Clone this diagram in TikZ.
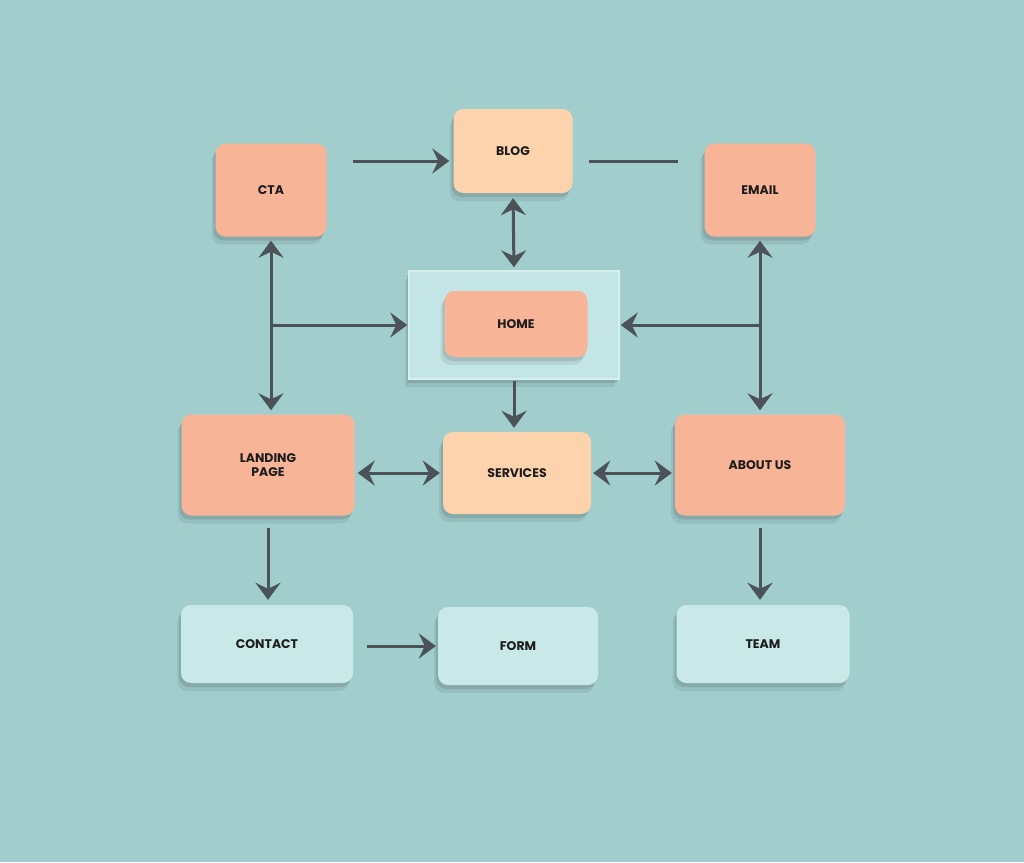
\documentclass[tikz,border=0pt]{standalone}
\usepackage{fontspec}
\setmainfont{Poppins}
\usepackage{tikz}
\usetikzlibrary{arrows.meta}
\usetikzlibrary{shadows}

\definecolor{bg}{HTML}{A2CDCD}
\definecolor{salmon}{HTML}{F8B497}
\definecolor{peach}{HTML}{FDD3AD}
\definecolor{mint}{HTML}{C9E8E8}
\definecolor{homecyan}{HTML}{C4E5E5}
\definecolor{homeedge}{HTML}{D6EFEF}
\definecolor{arrowgray}{HTML}{4B5258}
\definecolor{txt}{HTML}{1C1C1C}

\begin{document}
\begin{tikzpicture}[x=1pt,y=-1pt]
		\fill[bg] (0,0) rectangle (1024,862);

		\begin{scope}[every node/.style={rectangle,rounded corners=10pt,text=txt,align=center,
		              font=\fontsize{12.5}{14.5}\selectfont\bfseries,
		              general shadow={shadow xshift=-4pt,shadow yshift=-8pt,opacity=.07,fill=black},
		              drop shadow={shadow xshift=-2pt,shadow yshift=-4pt,opacity=.1,fill=black}}]
			\node[fill=homecyan,draw=homeedge,line width=1.5pt,rounded corners=0pt,
			      minimum width=210pt,minimum height=108pt] (homebox) at (514,325) {};
			\node[fill=salmon,minimum width=111pt,minimum height=93pt] (cta) at (271,190) {CTA};
			\node[fill=peach,minimum width=119pt,minimum height=84pt] (blog) at (513,151) {BLOG};
			\node[fill=salmon,minimum width=111pt,minimum height=93pt] (email) at (760,190) {EMAIL};
			\node[fill=salmon,minimum width=143pt,minimum height=66pt] (home) at (516,324) {HOME};
			\node[fill=salmon,minimum width=173pt,minimum height=101pt] (landing) at (268,465) {LANDING\\PAGE};
			\node[fill=peach,minimum width=148pt,minimum height=82pt] (services) at (517,473) {SERVICES};
			\node[fill=salmon,minimum width=170pt,minimum height=101pt] (about) at (760,465) {ABOUT US};
			\node[fill=mint,minimum width=172pt,minimum height=78pt] (contact) at (267,644) {CONTACT};
			\node[fill=mint,minimum width=160pt,minimum height=78pt] (form) at (518,646) {FORM};
			\node[fill=mint,minimum width=173pt,minimum height=78pt] (team) at (763,644) {TEAM};
		\end{scope}

		\begin{scope}[>={Stealth[length=17pt,width=25pt,inset=6pt]},
		              every edge/.style={draw=arrowgray,line width=3pt}]
			\path ([xshift=26pt,yshift=29pt]cta.east) edge[->] ([xshift=-4pt,yshift=-10pt]blog.west);
			\path ([xshift=16pt,yshift=-10pt]blog.east) edge ([xshift=-26pt,yshift=29pt]email.west);
			\path (blog.south) edge[<->,shorten <=5pt,shorten >=3pt] (homebox.north);
			\path (cta.south) edge[<->,shorten <=4pt,shorten >=4pt] (cta.south |- landing.north);
			\path (cta.south |- homebox.west) edge[->,shorten >=1pt] (homebox.west);
			\path (email.south) edge[<->,shorten <=4pt,shorten >=4pt] (email.south |- about.north);
			\path (email.south |- homebox.east) edge[->,shorten >=1pt] (homebox.east);
			\path (homebox.south) edge[->,shorten <=1pt,shorten >=4pt] (homebox.south |- services.north);
			\path (landing.east |- services) edge[<->,shorten <=3pt,shorten >=3pt] (services.west);
			\path (services.east) edge[<->,shorten <=2pt,shorten >=3pt] (services.east -| about.west);
			\path (landing.south) edge[->,shorten <=12pt,shorten >=5pt] (landing.south |- contact.north);
			\path (about.south) edge[->,shorten <=12pt,shorten >=5pt] (about.south |- team.north);
			\path (contact.east |- form) edge[->,shorten <=14pt,shorten >=2pt] (form.west);
		\end{scope}
\end{tikzpicture}
\end{document}
